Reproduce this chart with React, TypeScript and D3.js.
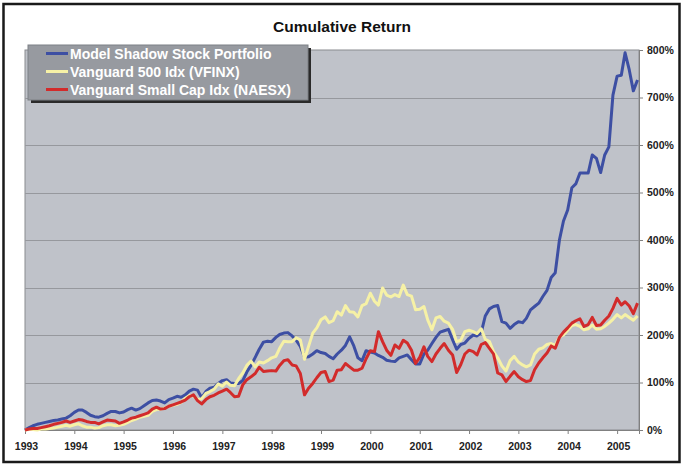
import { useEffect, useRef } from "react"
import * as d3 from "d3"

// Monthly cumulative returns (%), Jan 1993 .. Jun 2005
const shadowStock = [
  0, 5, 9, 12, 14, 16, 18, 20, 21, 23, 25, 30,
  37, 42, 42, 37, 31, 28, 27, 30, 35, 39, 39, 36,
  38, 43, 46, 42, 45, 51, 57, 62, 63, 61, 57, 64,
  67, 71, 69, 74, 82, 86, 84, 68, 81, 88, 90, 98,
  104, 106, 99, 98, 98, 104, 122, 136, 153, 170, 185, 187,
  186, 195, 201, 204, 205, 198, 189, 176, 153, 154, 160, 167,
  163, 161, 155, 150, 160, 168, 178, 196, 177, 152, 146, 167,
  164, 162, 157, 153, 147, 145, 144, 152, 155, 158, 148, 139,
  139, 160, 168, 182, 195, 206, 209, 212, 190, 170, 180, 183,
  193, 200, 198, 205, 240, 255, 260, 262, 228, 225, 214, 222,
  228, 226, 235, 253, 260, 267, 281, 294, 321, 331, 400, 440,
  463, 510, 518, 541, 541, 541, 579, 572, 542, 579, 596, 705,
  745, 747, 794, 758, 714, 737,
]

const vanguard500 = [
  0, 1, 1, 0, 2, 2, 3, 4, 6, 8, 10, 8,
  11, 13, 9, 6, 6, 4, 5, 9, 11, 11, 9, 10,
  12, 16, 20, 23, 27, 29, 31, 39, 43, 44, 46, 50,
  52, 54, 58, 67, 72, 72, 64, 66, 77, 81, 86, 97,
  92, 101, 94, 93, 108, 120, 136, 145, 133, 143, 141, 146,
  152, 155, 172, 187, 186, 186, 194, 190, 149, 176, 204, 215,
  232, 238, 226, 230, 249, 242, 262, 249, 248, 238, 262, 266,
  288, 271, 263, 299, 284, 280, 285, 281, 305, 285, 282, 253,
  254, 260, 232, 211, 236, 239, 229, 225, 212, 186, 189, 207,
  210, 207, 203, 213, 191, 186, 165, 152, 135, 124, 146, 155,
  143, 137, 133, 137, 160, 170, 173, 180, 182, 178, 196, 200,
  210, 220, 222, 218, 211, 213, 221, 212, 213, 218, 225, 233,
  243, 236, 243, 237, 231, 240,
]

const smallCap = [
  0, 2, 3, 3, 5, 7, 9, 12, 14, 16, 19, 16,
  19, 22, 21, 18, 16, 16, 13, 17, 21, 20, 19, 14,
  17, 21, 25, 27, 30, 33, 36, 44, 48, 44, 45, 50,
  53, 56, 59, 63, 70, 74, 62, 55, 64, 70, 73, 78,
  82, 86, 79, 70, 71, 95, 106, 112, 119, 132, 123, 124,
  125, 124, 136, 146, 148, 137, 135, 119, 74, 88, 98, 110,
  121, 123, 102, 105, 126, 127, 140, 133, 126, 126, 130, 150,
  167, 165, 207, 186, 168, 157, 179, 172, 189, 183, 168, 140,
  153, 175, 155, 144, 160, 172, 182, 168, 158, 121, 138, 160,
  168, 165, 158, 180, 184, 172, 160, 120, 116, 102, 113, 123,
  112, 106, 102, 104, 127, 141, 152, 162, 177, 172, 195, 206,
  215, 225, 230, 234, 218, 222, 237, 220, 221, 231, 240, 256,
  277, 263, 270, 261, 245, 267,
]

const months = d3.timeMonth.range(new Date(1993, 0, 1), new Date(2005, 6, 1))
const yearTicks = [1993, 1994, 1995, 1996, 1997, 1998, 1999, 2000, 2001, 2002, 2003, 2004, 2005]
const percentTicks = [0, 100, 200, 300, 400, 500, 600, 700, 800]

const seriesList = [
  { name: "Model Shadow Stock Portfolio", values: shadowStock, color: "#3d4fa3" },
  { name: "Vanguard 500 Idx (VFINX)", values: vanguard500, color: "#f6f1a6" },
  { name: "Vanguard Small Cap Idx (NAESX)", values: smallCap, color: "#d22b2b" },
]

export default function App() {
  const svgRef = useRef<SVGSVGElement>(null)

  useEffect(() => {
    if (!svgRef.current) return
    const svg = d3.select(svgRef.current)
    svg.selectAll("*").remove()

    const width = 684
    const height = 467
    const font = "Arial, 'Liberation Sans', sans-serif"
    const plot = { left: 25, right: 639, top: 50, bottom: 430 }

    svg.attr("width", width).attr("height", height)

    // outer chart frame
    svg.append("rect")
      .attr("x", 3.5).attr("y", 4).attr("width", 676).attr("height", 458)
      .attr("fill", "white").attr("stroke", "#1a1a1a").attr("stroke-width", 2.5)

    const x = d3.scaleTime()
      .domain([new Date(1993, 0, 1), new Date(2005, 5, 12)])
      .range([plot.left, plot.right])
    const y = d3.scaleLinear().domain([0, 800]).range([plot.bottom, plot.top])

    // plot area
    svg.append("rect")
      .attr("x", plot.left).attr("y", plot.top)
      .attr("width", plot.right - plot.left).attr("height", plot.bottom - plot.top)
      .attr("fill", "#bfc2c9").attr("stroke", "#8a8c90").attr("stroke-width", 1)

    // gridlines
    svg.append("g")
      .selectAll("line")
      .data(percentTicks.filter((d) => d > 0 && d < 800))
      .enter()
      .append("line")
      .attr("x1", plot.left).attr("x2", plot.right)
      .attr("y1", (d) => Math.round(y(d)) + 0.5).attr("y2", (d) => Math.round(y(d)) + 0.5)
      .attr("stroke", "#96989d").attr("stroke-width", 1)

    // right axis
    const yAxis = svg.append("g").attr("transform", `translate(${plot.right},0)`)
      .call(d3.axisRight(y).tickValues(percentTicks).tickSize(4).tickPadding(4).tickFormat((d) => `${d}%`))
    yAxis.select(".domain").attr("stroke", "#808080")
    yAxis.selectAll(".tick line").attr("stroke", "#808080")
    yAxis.selectAll("text")
      .attr("fill", "#222").style("font-family", font).style("font-size", "10.5px").style("font-weight", "bold")

    // bottom axis
    const xAxis = svg.append("g").attr("transform", `translate(0,${plot.bottom})`)
      .call(d3.axisBottom(x).tickValues(yearTicks.map((yr) => new Date(yr, 0, 1))).tickSize(4).tickPadding(9)
        .tickFormat((d) => d3.timeFormat("%Y")(d as Date)))
    xAxis.select(".domain").attr("stroke", "#808080")
    xAxis.selectAll(".tick line").attr("stroke", "#808080")
    xAxis.selectAll("text")
      .attr("fill", "#222").attr("dx", 1).style("font-family", font).style("font-size", "10.5px").style("font-weight", "bold")

    // series lines
    const line = d3.line<number>()
      .x((_, i) => x(months[i]))
      .y((d) => y(d))

    svg.append("g")
      .selectAll("path")
      .data(seriesList)
      .enter()
      .append("path")
      .attr("d", (d) => line(d.values))
      .attr("fill", "none")
      .attr("stroke", (d) => d.color)
      .attr("stroke-width", 3)
      .attr("stroke-linejoin", "round")

    // title
    svg.append("text")
      .attr("x", 342).attr("y", 32)
      .attr("text-anchor", "middle")
      .style("font-family", font).style("font-size", "15.5px").style("font-weight", "bold")
      .attr("fill", "#111")
      .text("Cumulative Return")

    // legend
    const legend = svg.append("g").attr("transform", "translate(28,45)")
    legend.append("rect").attr("x", 3).attr("y", 3).attr("width", 280).attr("height", 55).attr("fill", "#2a2a2a")
    legend.append("rect").attr("width", 280).attr("height", 55)
      .attr("fill", "#979aa0").attr("stroke", "#7d8085").attr("stroke-width", 1)

    const items = legend.selectAll(".legend-item")
      .data(seriesList)
      .enter()
      .append("g")
      .attr("class", "legend-item")
      .attr("transform", (_, i) => `translate(0, ${8.5 + i * 18})`)

    items.append("line")
      .attr("x1", 18).attr("x2", 40).attr("y1", 0).attr("y2", 0)
      .attr("stroke", (d) => d.color).attr("stroke-width", 3)

    items.append("text")
      .attr("x", 42).attr("y", 5)
      .attr("fill", "white")
      .style("font-family", font).style("font-size", "14px").style("font-weight", "bold")
      .text((d) => d.name)
  }, [])

  return <svg ref={svgRef} style={{ position: "absolute", left: 0, top: 0 }}></svg>
}
